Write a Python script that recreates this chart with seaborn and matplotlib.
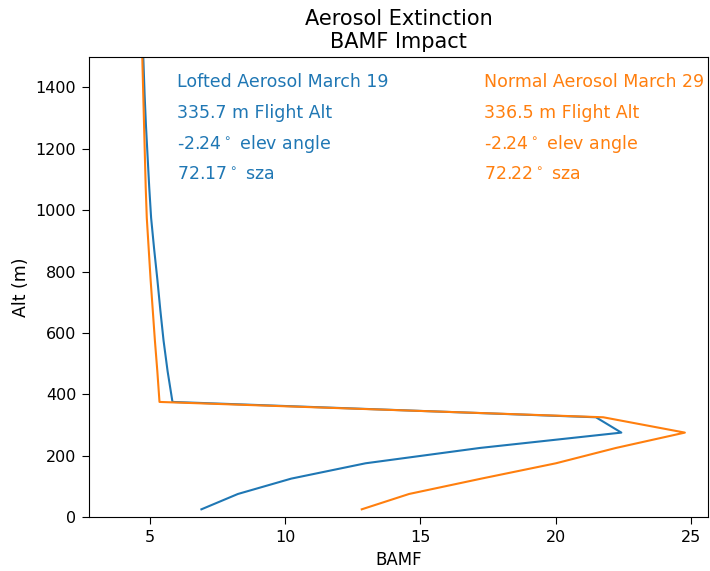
import pandas as pd
import matplotlib
matplotlib.use('Agg')
from matplotlib import pyplot as plt
import seaborn as sns

# altitude layers (m) and BAMF for the two flights
alt = [25, 75, 125, 175, 225, 275, 325, 375, 475, 575, 675, 775, 875,
       975, 1075, 1175, 1275, 1375, 1475, 1575]
bamf_lofted = [6.90, 8.25, 10.22, 12.97, 17.20, 22.43, 21.49, 5.83, 5.65, 5.50,
               5.38, 5.27, 5.15, 5.04, 4.97, 4.91, 4.85, 4.80, 4.76, 4.72]
bamf_normal = [12.83, 14.58, 17.25, 20.01, 22.23, 24.78, 21.76, 5.35, 5.27, 5.18,
               5.10, 5.02, 4.95, 4.88, 4.84, 4.81, 4.78, 4.75, 4.72, 4.70]

cases = ['Lofted Aerosol March 19', 'Normal Aerosol March 29']
flight_alt = ['335.7 m Flight Alt', '336.5 m Flight Alt']
elev = ['-2.24$^\\circ$ elev angle', '-2.24$^\\circ$ elev angle']
sza = ['72.17$^\\circ$ sza', '72.22$^\\circ$ sza']
colors = ['tab:blue', 'tab:orange']

df = pd.concat([
    pd.DataFrame({'Alt': alt, 'BAMF': bamf_lofted, 'case': cases[0]}),
    pd.DataFrame({'Alt': alt, 'BAMF': bamf_normal, 'case': cases[1]}),
])

fig = plt.figure(figsize=(7.1, 5.71), dpi=100)
ax = fig.add_axes([0.126, 0.0946, 0.871, 0.806])
sns.lineplot(data=df, x='BAMF', y='Alt', hue='case', hue_order=cases,
             palette=colors, sort=False, estimator=None, legend=False, ax=ax,
             linewidth=1.5)

ax.set_xlim(2.76, 25.63)
ax.set_ylim(0, 1500)
ax.set_xlabel('BAMF', fontsize=12)
ax.set_ylabel('Alt (m)', fontsize=12.5)
ax.tick_params(labelsize=11.5, length=4.7, pad=4.8)
ax.set_title('Aerosol Extinction\nBAMF Impact', fontsize=15)

# annotation text
xs = [6.0, 17.35]
for i in range(2):
    lines = [cases[i], flight_alt[i], elev[i], sza[i]]
    for j, t in enumerate(lines):
        ax.text(xs[i], 1400 - 100 * j, t, color=colors[i], fontsize=12.5)

fig.savefig('out.png', dpi=100)
